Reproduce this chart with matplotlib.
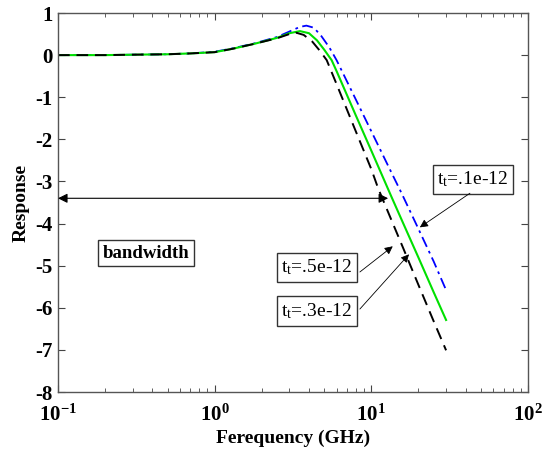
import matplotlib
matplotlib.use("Agg")
import matplotlib.pyplot as plt
import numpy as np

# Frequency samples (GHz) and read-off response values
freq_blue = [0.1, 0.2, 0.3, 0.5, 0.7, 1.0, 1.3, 1.8, 2.5, 3.0, 3.5, 3.85, 4.3, 4.8, 5.4, 6.0, 8.0, 10.0, 13.0, 15.6, 20.0, 25.0, 30.0]
resp_blue = [0.0, 0.0, 0.01, 0.02, 0.04, 0.08, 0.16, 0.28, 0.43, 0.56, 0.67, 0.70, 0.65, 0.45, 0.18, -0.12, -1.07, -1.81, -2.68, -3.28, -4.13, -4.90, -5.58]

freq_green = [0.1, 0.2, 0.3, 0.5, 0.7, 1.0, 1.3, 1.8, 2.5, 3.0, 3.5, 4.0, 4.5, 5.0, 5.58, 6.0, 8.0, 10.0, 13.46, 16.0, 20.0, 25.0, 30.0]
resp_green = [0.0, 0.0, 0.01, 0.02, 0.04, 0.07, 0.15, 0.27, 0.41, 0.52, 0.57, 0.52, 0.35, 0.13, -0.12, -0.38, -1.45, -2.27, -3.37, -4.00, -4.81, -5.63, -6.29]

freq_black = [0.1, 0.2, 0.3, 0.5, 0.7, 1.0, 1.3, 1.8, 2.5, 3.0, 3.33, 3.7, 4.2, 4.7, 5.19, 6.0, 8.0, 10.0, 11.07, 13.0, 16.0, 20.0, 25.0, 30.0]
resp_black = [0.0, 0.0, 0.01, 0.02, 0.04, 0.07, 0.15, 0.27, 0.40, 0.50, 0.53, 0.48, 0.32, 0.10, -0.12, -0.69, -1.83, -2.71, -3.17, -3.79, -4.59, -5.46, -6.32, -7.01]

labels = ["t$_{\\mathregular{t}}$=.1e-12", "t$_{\\mathregular{t}}$=.5e-12", "t$_{\\mathregular{t}}$=.3e-12"]

plt.rcParams['font.family'] = ['Liberation Serif', 'DejaVu Serif']
plt.rcParams['font.weight'] = 'bold'
plt.rcParams['axes.unicode_minus'] = False
plt.rcParams['mathtext.fontset'] = 'custom'
plt.rcParams['mathtext.rm'] = 'Liberation Serif:bold'
plt.rcParams['mathtext.it'] = 'Liberation Serif:bold'
plt.rcParams['mathtext.bf'] = 'Liberation Serif:bold'

fig = plt.figure(figsize=(5.46, 4.5), dpi=100)
ax = fig.add_axes([58/546, 1-392/450, (528-58)/546, (392-13)/450])

ax.semilogx(freq_blue, resp_blue, color='#0000ff', lw=1.3, linestyle=(0, (6, 2.5, 1.5, 2.5)))
ax.semilogx(freq_green, resp_green, color='#00e000', lw=1.5, linestyle='-')
ax.semilogx(freq_black, resp_black, color='black', lw=1.4, linestyle=(0, (6, 3.5)))

ax.set_xlim(0.1, 100)
ax.set_ylim(-8, 1)
ax.set_yticks(range(-8, 2))
ax.tick_params(axis='both', which='both', direction='in', top=True, right=True, labelsize=15, color='#444444')
ax.tick_params(which='major', length=5)
ax.tick_params(which='minor', length=3)
ax.tick_params(axis='x', which='major', pad=9)
ax.tick_params(axis='y', which='major', pad=4)
for sp in ax.spines.values():
    sp.set_color('#555555')
    sp.set_linewidth(1.0)

ax.set_xlabel('Ferequency (GHz)', fontsize=14, fontweight='bold', labelpad=3)
ax.set_ylabel('Response', fontsize=14, fontweight='bold', labelpad=4)

# bandwidth arrow
ax.annotate('', xy=(12.8, -3.4), xytext=(0.1, -3.4),
            arrowprops=dict(arrowstyle='<|-|>', color='black', lw=0.8,
                            mutation_scale=14, shrinkA=0, shrinkB=0))

bbox = dict(boxstyle='square,pad=0.25', fc='white', ec='#333333', lw=1.0)
ax.text(0.365, -4.70, 'bandwidth', fontsize=13.5, fontweight='bold', ha='center', va='center', bbox=bbox)

arrow_kw = dict(arrowstyle='-|>', color='black', lw=0.6, mutation_scale=12, shrinkA=0, shrinkB=0)
tkw = dict(fontsize=14, fontweight='normal', ha='center', va='center', bbox=bbox)
ax.text(44.5, -2.95, labels[0], **tkw)
ax.annotate('', xy=(20.4, -4.09), xytext=(42.6, -3.28), arrowprops=arrow_kw)
ax.text(4.5, -5.04, labels[1], **tkw)
ax.annotate('', xy=(13.7, -4.54), xytext=(8.45, -5.15), arrowprops=arrow_kw)
ax.text(4.5, -6.08, labels[2], **tkw)
ax.annotate('', xy=(17.4, -4.73), xytext=(8.45, -6.03), arrowprops=arrow_kw)

fig.savefig('out.png', dpi=100)
